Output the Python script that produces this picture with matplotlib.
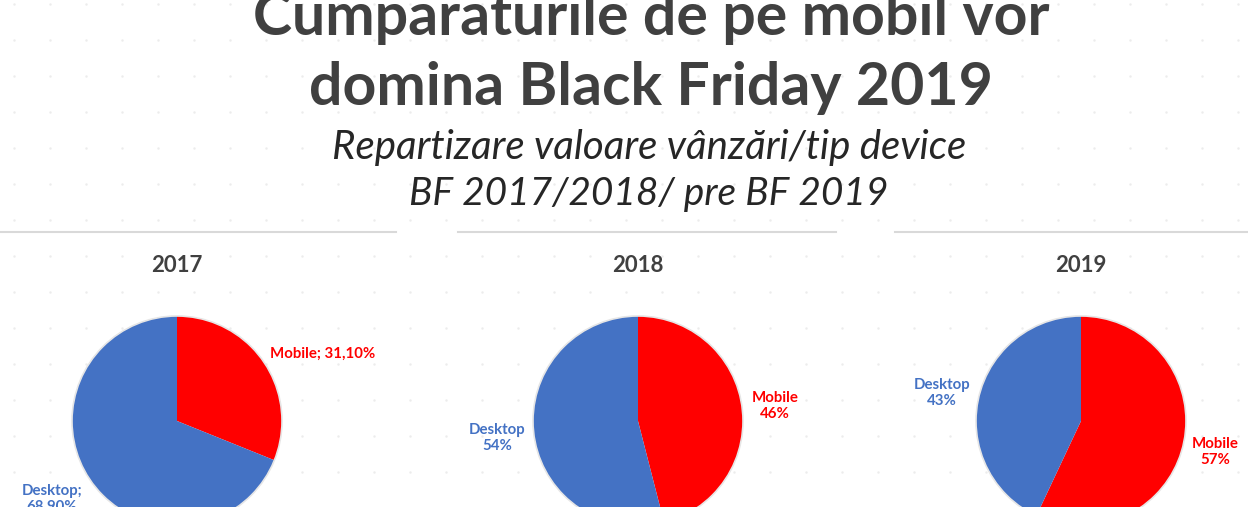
import numpy as np
import matplotlib.pyplot as plt
from matplotlib.patches import Circle

# Data
years = ["2017", "2018", "2019"]
mobile = [31.10, 46, 57]
desktop = [68.90, 54, 43]
mobile_labels = ["Mobile; 31,10%", "Mobile\n46%", "Mobile\n57%"]
desktop_labels = ["Desktop;\n68,90%", "Desktop\n54%", "Desktop\n43%"]

title_lines = ["Cumpărăturile de pe mobil vor", "domina Black Friday 2019"]
subtitle_lines = ["Repartizare valoare vânzări/tip device", "BF 2017/2018/ pre BF 2019"]

BLUE = "#4472C4"
RED = "#FF0000"
DARK = "#404040"

W, H = 1248, 507
fig = plt.figure(figsize=(W / 100, H / 100), dpi=100)
fig.patch.set_facecolor("white")
plt.rcParams['font.family'] = ['Lato', 'DejaVu Sans']


def px(x, y):
    # pixel coords (from top-left) -> figure fraction
    return x / W, 1 - y / H


# faint dotted background
bg = fig.add_axes([0, 0, 1, 1])
bg.set_xlim(0, W)
bg.set_ylim(H, 0)
bg.axis("off")
gx, gy = np.meshgrid(np.arange(14, W, 36), np.arange(4, H, 36))
bg.scatter(gx.ravel(), gy.ravel(), s=3, color="#ececec", lw=0, zorder=0)

# title and subtitle
for txt, yb in zip(title_lines, [35, 105]):
    fig.text(*px(651, yb), txt, ha="center", va="baseline",
             fontsize=42.5, fontweight="bold", color=DARK)
for txt, yb, fs in zip(subtitle_lines, [159, 205], [29, 28]):
    fig.text(*px(649, yb), txt, ha="center", va="baseline",
             fontsize=fs, fontstyle="italic", color="#262626")

# separator lines above each chart
for x0, x1 in [(0, 396), (458, 836), (895, W)]:
    bg.plot([x0, x1], [232, 232], color="#d9d9d9", lw=1.5)

centers = [177, 638, 1081]
radius = 105
cy = 421
mob_pos = [(323, 354), (775, 406), (1215, 452)]
desk_pos = [(52, 499), (497, 438), (942, 393)]

for i, year in enumerate(years):
    cx = centers[i]
    ax = fig.add_axes([(cx - radius - 2) / W, (H - cy - radius - 2) / H,
                       (2 * radius + 4) / W, (2 * radius + 4) / H])
    ax.pie([mobile[i], desktop[i]], colors=[RED, BLUE], startangle=90,
           counterclock=False, radius=1,
           wedgeprops=dict(linewidth=0))
    ax.add_patch(Circle((0, 0), 1, fill=False, edgecolor="#e6e6e6", lw=1.2))
    lim = (radius + 2) / radius
    ax.set_xlim(-lim, lim)
    ax.set_ylim(-lim, lim)
    ax.set_aspect("auto")
    ax.axis("off")

    fig.text(*px(cx, 272), year, ha="center", va="baseline",
             fontsize=16, fontweight="bold", color=DARK)
    fig.text(*px(*mob_pos[i]), mobile_labels[i], ha="center", va="center",
             fontsize=10.8, fontweight="bold", color=RED, linespacing=1.2)
    fig.text(*px(*desk_pos[i]), desktop_labels[i], ha="center", va="center",
             fontsize=10.8, fontweight="bold", color=BLUE, linespacing=1.2)

fig.savefig("out.png", dpi=100)
